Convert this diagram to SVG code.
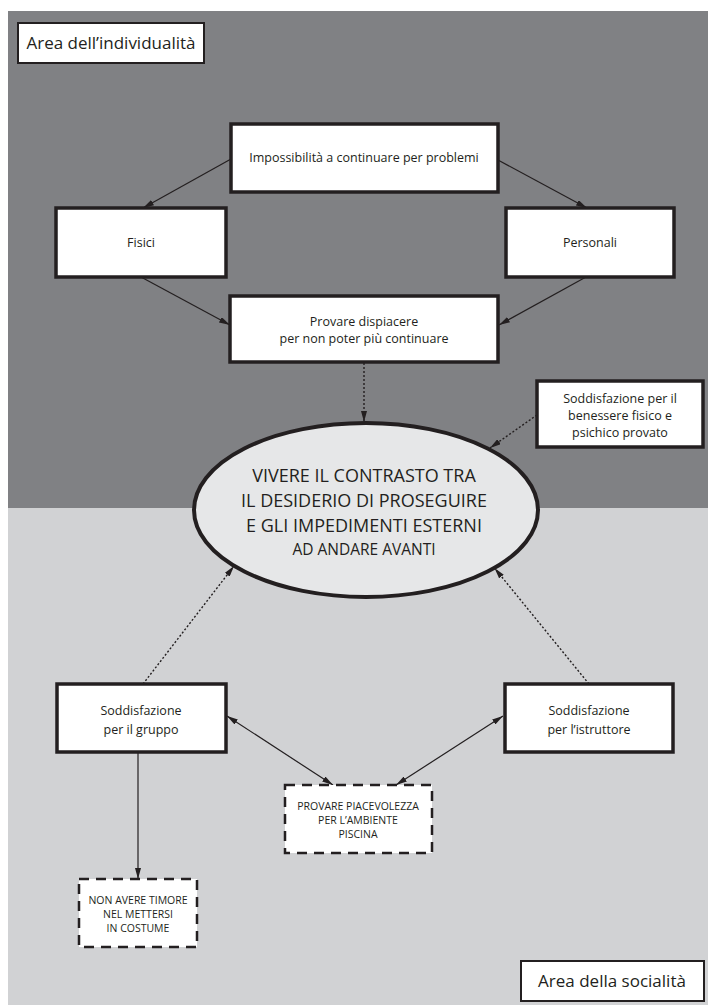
<svg xmlns="http://www.w3.org/2000/svg" width="708" height="1005" viewBox="0 0 708 1005">
<style>
text{font-family:"Open Sans","Noto Sans","DejaVu Sans",sans-serif;fill:#231f20;text-anchor:middle}
.box{fill:#fff;stroke:#231f20;stroke-width:3.5}
.lbl{fill:#fff;stroke:#231f20;stroke-width:2}
.dash{fill:#fff;stroke:#231f20;stroke-width:2.5;stroke-dasharray:10 7}
.t{font-size:12.5px}
.c{font-size:10.5px}
.big{font-size:18px}
.area{font-size:17px}
.line{stroke:#231f20;stroke-width:1.2;fill:none;marker-end:url(#ah)}
.dot{stroke:#231f20;stroke-width:1.4;fill:none;stroke-dasharray:2 2;marker-end:url(#ah)}
.dbl{stroke:#231f20;stroke-width:1.2;fill:none;marker-end:url(#ah);marker-start:url(#ah2)}
</style>
<defs>
<marker id="ah" viewBox="0 0 11 6" refX="11" refY="3" markerWidth="11" markerHeight="6" markerUnits="userSpaceOnUse" orient="auto"><path d="M0,0L11,3L0,6z" fill="#231f20"/></marker>
<marker id="ah2" viewBox="0 0 11 6" refX="11" refY="3" markerWidth="11" markerHeight="6" markerUnits="userSpaceOnUse" orient="auto-start-reverse"><path d="M0,0L11,3L0,6z" fill="#231f20"/></marker>
</defs>
<rect x="0" y="0" width="708" height="1005" fill="#fff"/>
<rect x="8" y="11" width="700" height="497" fill="#808184"/>
<rect x="8" y="508" width="700" height="497" fill="#d1d2d4"/>

<g id="connectors">
<line class="line" x1="231" y1="159" x2="143" y2="208"/>
<line class="line" x1="498" y1="160" x2="587" y2="208"/>
<line class="line" x1="141" y1="277" x2="230" y2="325"/>
<line class="line" x1="586" y1="277" x2="499" y2="325"/>
<line class="dot" x1="364" y1="363" x2="364" y2="422"/>
<line class="dot" x1="537" y1="415" x2="490" y2="448"/>
<line class="dot" x1="143" y1="684" x2="234" y2="566"/>
<line class="dot" x1="589" y1="684" x2="494.5" y2="568"/>
<line class="dbl" x1="227" y1="716" x2="333" y2="785"/>
<line class="dbl" x1="503" y1="716" x2="396" y2="785"/>
<line class="line" x1="138" y1="752" x2="138" y2="879"/>
</g>

<g id="label-individualita">
<rect class="lbl" x="18" y="23" width="186" height="40"/>
<text class="area" x="111" y="49">Area dell’individualità</text>
</g>

<g id="impossibilita">
<rect class="box" x="231" y="124" width="267" height="68"/>
<text class="t" x="364" y="162">Impossibilità a continuare per problemi</text>
</g>

<g id="fisici">
<rect class="box" x="56" y="208" width="170" height="69"/>
<text class="t" x="141" y="247">Fisici</text>
</g>

<g id="personali">
<rect class="box" x="506" y="208" width="168" height="69"/>
<text class="t" x="590" y="247">Personali</text>
</g>

<g id="provare-dispiacere">
<rect class="box" x="230" y="296" width="268" height="66"/>
<text class="t" x="364" y="326">Provare dispiacere</text>
<text class="t" x="364" y="343">per non poter più continuare</text>
</g>

<g id="benessere">
<rect class="box" x="537" y="381" width="166" height="66"/>
<text class="t" x="620" y="403">Soddisfazione per il</text>
<text class="t" x="620" y="420">benessere fisico e</text>
<text class="t" x="620" y="437">psichico provato</text>
</g>

<g id="contrasto">
<ellipse cx="366" cy="510" rx="172" ry="87" fill="#e6e7e8" stroke="#231f20" stroke-width="4"/>
<text class="big" x="364" y="482">VIVERE IL CONTRASTO TRA</text>
<text class="big" x="364" y="507">IL DESIDERIO DI PROSEGUIRE</text>
<text class="big" x="364" y="532">E GLI IMPEDIMENTI ESTERNI</text>
<text x="364" y="555" style="font-size:15.5px">AD ANDARE AVANTI</text>
</g>

<g id="gruppo">
<rect class="box" x="57" y="684" width="169" height="68"/>
<text class="t" x="141" y="715">Soddisfazione</text>
<text class="t" x="141" y="734">per il gruppo</text>
</g>

<g id="istruttore">
<rect class="box" x="505" y="684" width="168" height="68"/>
<text class="t" x="589" y="715">Soddisfazione</text>
<text class="t" x="589" y="734">per l’istruttore</text>
</g>

<g id="piscina">
<rect class="dash" x="285" y="785" width="147" height="68"/>
<text class="c" x="358" y="810">PROVARE PIACEVOLEZZA</text>
<text class="c" x="358" y="824">PER L’AMBIENTE</text>
<text class="c" x="358" y="838">PISCINA</text>
</g>

<g id="costume">
<rect class="dash" x="79" y="879" width="118" height="68"/>
<text class="c" x="138" y="904">NON AVERE TIMORE</text>
<text class="c" x="138" y="918">NEL METTERSI</text>
<text class="c" x="138" y="932">IN COSTUME</text>
</g>

<g id="label-socialita">
<rect class="lbl" x="521" y="961" width="183" height="40"/>
<text class="area" x="612" y="987">Area della socialità</text>
</g>
</svg>
